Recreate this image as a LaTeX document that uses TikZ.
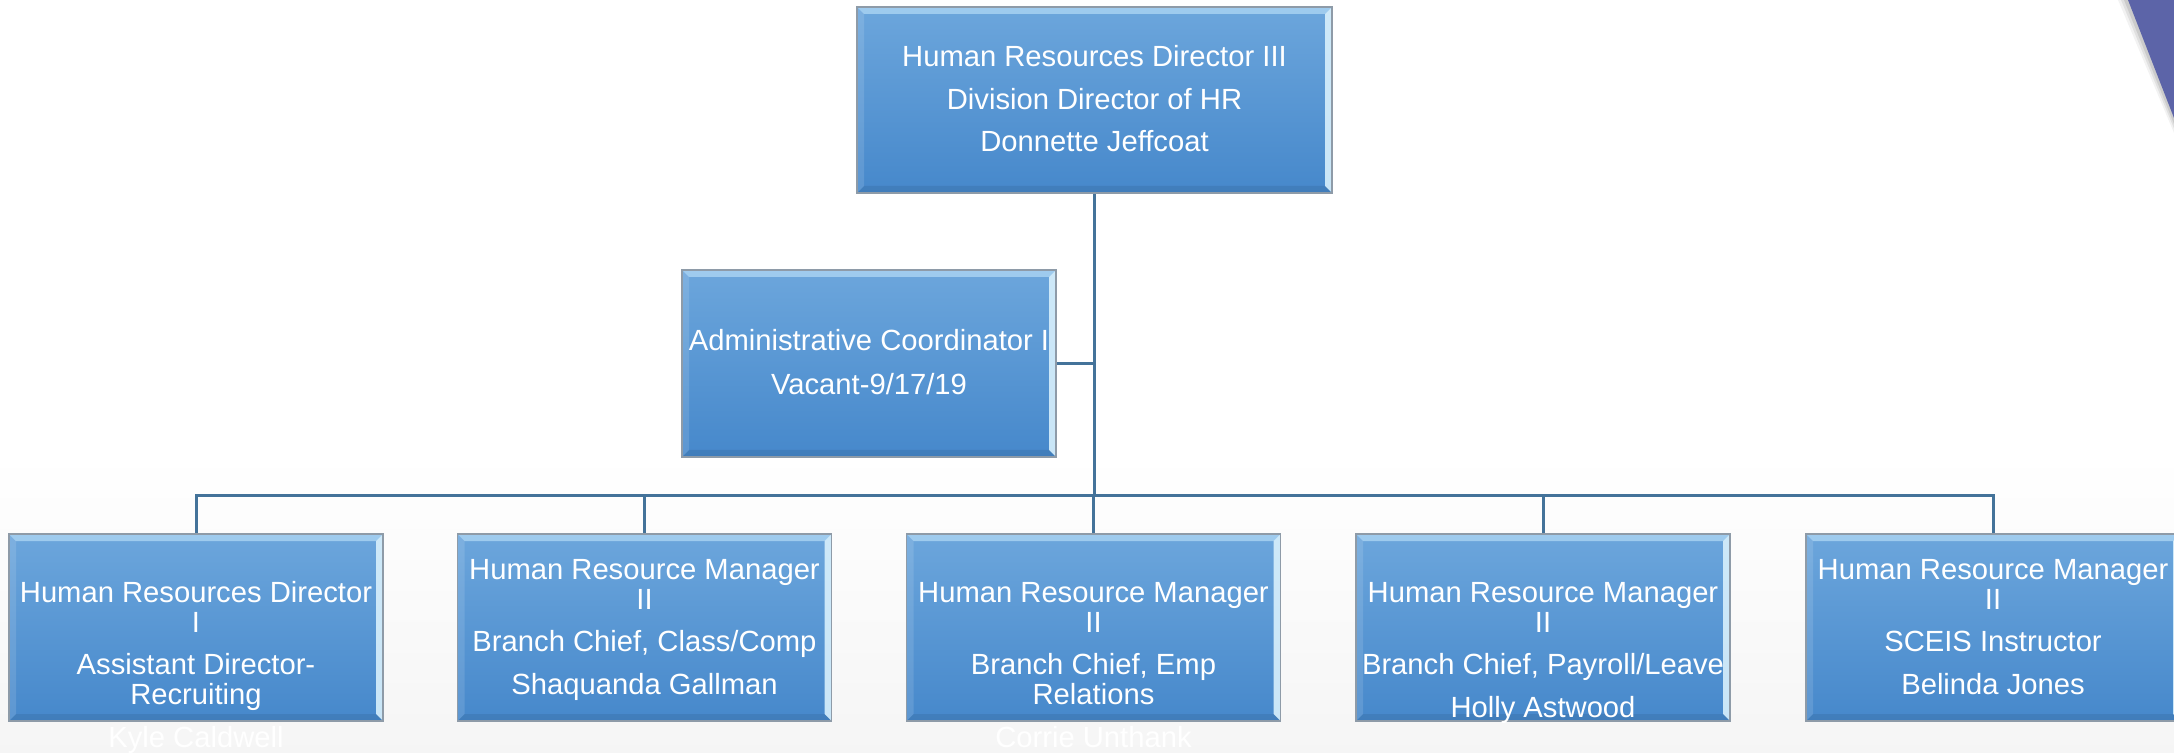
\documentclass[tikz,border=0pt]{standalone}
\usepackage{fontspec}
\setmainfont{Liberation Sans}
\definecolor{boxtop}{HTML}{6CA6DC}
\definecolor{boxbot}{HTML}{4688CB}
\definecolor{boxedge}{HTML}{8E9BA8}
\definecolor{bevlight}{HTML}{A8D2F2}
\definecolor{bevright}{HTML}{D8F0FC}
\definecolor{linec}{HTML}{44739A}
\definecolor{bgbot}{HTML}{E9E9E9}
\definecolor{cornerc}{HTML}{5C64A8}
\pgfdeclareverticalshading{bgshade}{100bp}{color(0bp)=(bgbot); color(45bp)=(white); color(100bp)=(white)}
\pgfdeclarelayer{bglayer}
\pgfsetlayers{bglayer,main}
\tikzset{
  box/.style={rectangle, inner sep=0pt, draw=boxedge, line width=0.6pt,
    top color=boxtop, bottom color=boxbot,
    path picture={
      \fill[bevlight,opacity=0.85] (path picture bounding box.north west) -- (path picture bounding box.north east)
        -- ([xshift=-3.5pt,yshift=-3.5pt]path picture bounding box.north east) -- ([xshift=3.5pt,yshift=-3.5pt]path picture bounding box.north west) -- cycle;
      \fill[bevright,opacity=0.9] (path picture bounding box.north east) -- (path picture bounding box.south east)
        -- ([xshift=-3.5pt,yshift=3.5pt]path picture bounding box.south east) -- ([xshift=-3.5pt,yshift=-3.5pt]path picture bounding box.north east) -- cycle;
      \fill[white,opacity=0.12] (path picture bounding box.north west) -- (path picture bounding box.south west)
        -- ([xshift=3.5pt,yshift=3.5pt]path picture bounding box.south west) -- ([xshift=3.5pt,yshift=-3.5pt]path picture bounding box.north west) -- cycle;
      \fill[black,opacity=0.08] (path picture bounding box.south west) -- (path picture bounding box.south east)
        -- ([xshift=-3.5pt,yshift=3.5pt]path picture bounding box.south east) -- ([xshift=3.5pt,yshift=3.5pt]path picture bounding box.south west) -- cycle;
    }},
  topbox/.style={box, minimum width=237.5pt, minimum height=93pt},
  smallbox/.style={box, minimum width=187pt, minimum height=93.5pt},
  lbl/.style={text=white, align=center, anchor=base, inner sep=0pt,
    font=\fontsize{14.6}{15}\selectfont},
  conn/.style={draw=linec, line width=1.5pt}
}
\newcommand{\pg}{\\[6.25pt]}
\begin{document}
\begin{tikzpicture}[x=0.5pt,y=-0.5pt]
\useasboundingbox (0,0) rectangle (2174,753);
\clip (0,0) rectangle (2174,753);

% boxes
\node[topbox] (top) at (1094.5,100) {};
\node[smallbox] (adm) at (869,363.5) {};
\node[smallbox] (b1) at (196,627.5) {};
\node[smallbox] (b2) at (644.5,627.5) {};
\node[smallbox] (b3) at (1093.5,627.5) {};
\node[smallbox] (b4) at (1543,627.5) {};
\node[smallbox] (b5) at (1993,627.5) {};

% texts (anchor base = baseline of last line)
\node[lbl] (ttop) at (1094.5,152) {Human Resources Director III\pg Division Director of HR\pg Donnette Jeffcoat};
\node[lbl] (tadm) at (869,395) {Administrative Coordinator I\\[7pt]Vacant-9/17/19};
\node[lbl] (tb1) at (196,747) {Human Resources Director\\ I\pg Assistant Director-\\ Recruiting\pg Kyle Caldwell};
\node[lbl] (tb2) at (644.5,694) {Human Resource Manager\\ II\pg Branch Chief, Class/Comp\pg Shaquanda Gallman};
\node[lbl] (tb3) at (1093.5,747) {Human Resource Manager\\ II\pg Branch Chief, Emp\\ Relations\pg Corrie Unthank};
\node[lbl] (tb4) at (1543,717) {Human Resource Manager\\ II\pg Branch Chief, Payroll/Leave\pg Holly Astwood};
\node[lbl] (tb5) at (1993,694) {Human Resource Manager\\ II\pg SCEIS Instructor\pg Belinda Jones};

\coordinate (bus) at (1094.5,496);

\begin{pgfonlayer}{bglayer}
\fill[shading=bgshade] (0,0) rectangle (2174,753);
% corner shape
\foreach \s/\o in {10/0.05,7/0.07,4/0.09}{
  \fill[black,opacity=\o] (2128-\s,0) -- (2174,0) -- (2174,118+\s*1.5) -- cycle;
}
\fill[cornerc] (2128,0) -- (2174,0) -- (2174,118) -- cycle;
% connectors
\draw[conn] (top.south) -- (bus);
\draw[conn] (adm.east) -- (adm.east -| top.south);
\draw[conn] (b1.north) -- (b1.north |- bus) -- (b5.north |- bus) -- (b5.north);
\draw[conn] (b2.north) -- (b2.north |- bus);
\draw[conn] (b3.north) -- (b3.north |- bus);
\draw[conn] (b4.north) -- (b4.north |- bus);
\end{pgfonlayer}
\end{tikzpicture}
\end{document}
